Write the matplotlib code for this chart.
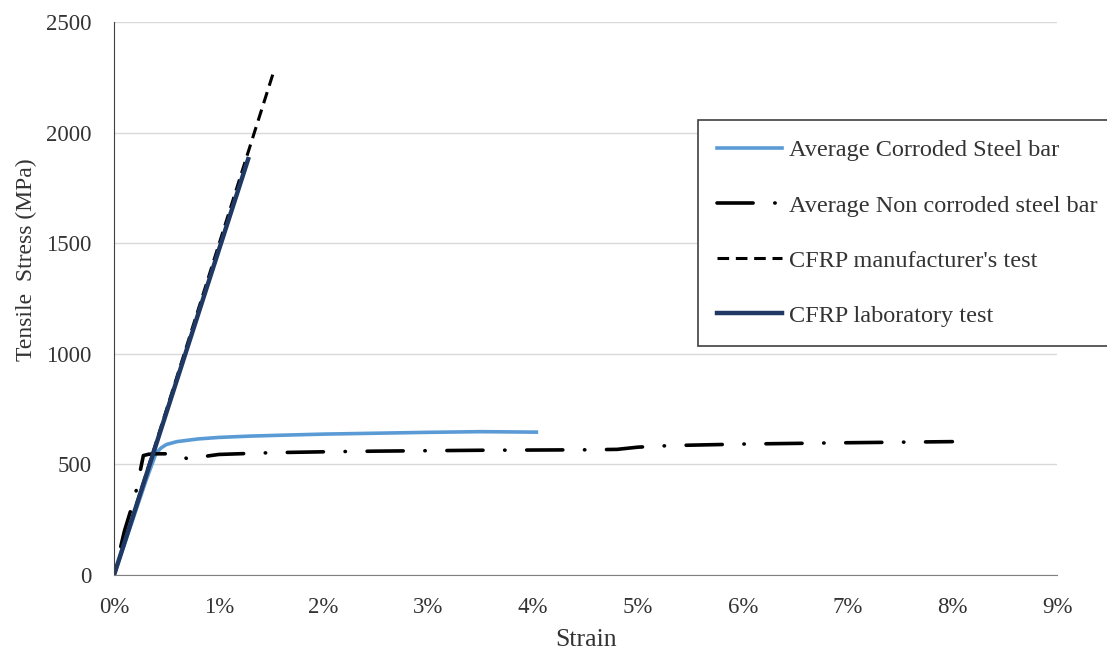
import matplotlib.pyplot as plt
from matplotlib.ticker import FuncFormatter

plt.rcParams['font.family'] = ['Liberation Serif', 'DejaVu Serif']

# strain in %, stress in MPa
corroded_strain = [0, 0.1, 0.2, 0.3, 0.4, 0.45, 0.5, 0.6, 0.8, 1.0, 1.3, 1.6, 2.0, 2.5, 3.0, 3.5, 4.0, 4.03]
corroded_stress = [0, 140, 280, 420, 550, 575, 590, 603, 615, 622, 628, 632, 637, 641, 645, 648, 646, 646]

noncorr_strain = [0, 0.1, 0.2, 0.28, 0.33, 0.4, 0.5, 0.62, 0.7, 0.8, 1.0, 1.5, 2.0, 2.5, 3.0, 3.5, 4.0, 4.5, 4.8, 5.0, 5.3, 6.0, 7.0, 8.0]
noncorr_stress = [0, 200, 355, 540, 546, 548, 548, 545, 525, 532, 545, 553, 557, 560, 562, 564, 565, 566, 568, 578, 585, 592, 598, 603]

mfr_strain = [0, 1.53]
mfr_stress = [0, 2285]

lab_strain = [0, 1.28]
lab_stress = [0, 1880]

dashdot = (10, 6, 0.1, 6)

fig = plt.figure(figsize=(11.07, 6.53), dpi=100)
ax = fig.add_axes([0.103, 0.1194, 0.852, 0.847])

ax.plot(corroded_strain, corroded_stress, color='#5b9bd5', lw=2.6, label='Average Corroded Steel bar')
ax.plot(noncorr_strain, noncorr_stress, color='black', lw=2.6, linestyle=(14, dashdot),
        dash_capstyle='round', label='Average Non corroded steel bar')
ax.plot(mfr_strain, mfr_stress, color='black', lw=2.2, dashes=[3.8, 2.2], label="CFRP manufacturer's test")
ax.plot(lab_strain, lab_stress, color='#1f3864', lw=3.2, label='CFRP laboratory test')

ax.set_xlim(0, 9)
ax.set_ylim(0, 2500)
ax.set_xticks(range(0, 10))
ax.xaxis.set_major_formatter(FuncFormatter(lambda v, p: '%d%%' % v))
ax.set_yticks(range(0, 2501, 500))
ax.grid(axis='y', color='#d9d9d9', lw=1)
ax.set_axisbelow(True)
for s in ['top', 'right']:
    ax.spines[s].set_visible(False)
ax.spines['left'].set_color('#404040')
ax.spines['bottom'].set_color('#808080')
ax.tick_params(length=0, labelsize=16.5, colors='#333333')
ax.tick_params(axis='x', pad=16)
ax.tick_params(axis='y', pad=16)
ax.set_xlabel('Strain', fontsize=18.5, color='#333333')
ax.set_ylabel('Tensile  Stress (MPa)', fontsize=17, color='#333333')
ax.xaxis.set_label_coords(0.5, -0.098)
ax.yaxis.set_label_coords(-0.082, 0.571)

leg = ax.legend(loc='upper left', bbox_to_anchor=(698 / 1107, 1 - 120 / 653), bbox_transform=fig.transFigure,
                fontsize=17.5, frameon=True, fancybox=False, edgecolor='#404040', framealpha=1,
                handlelength=2.65, handletextpad=0.3, labelspacing=1.36, borderpad=0.8, borderaxespad=0)
leg.get_frame().set_linewidth(1.2)
leg.get_lines()[1].set_linestyle((0, dashdot))
for t in leg.get_texts():
    t.set_color('#333333')

fig.savefig('out.png', dpi=100)
